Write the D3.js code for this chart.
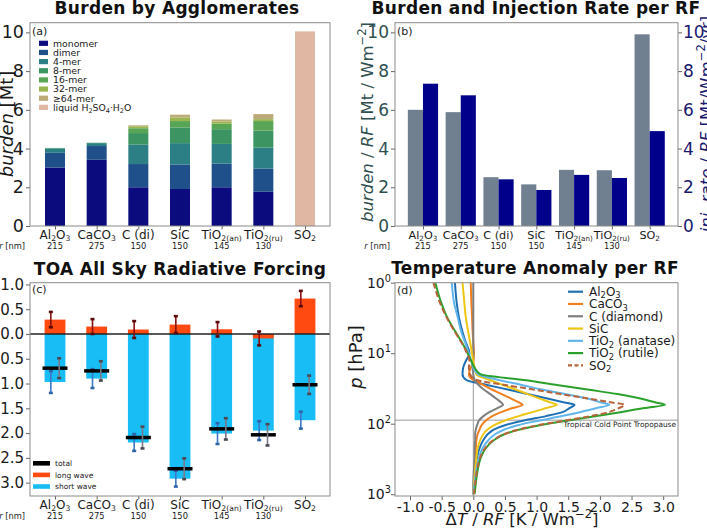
<!DOCTYPE html>
<html><head><meta charset="utf-8">
<script src="https://cdn.jsdelivr.net/npm/d3@7/dist/d3.min.js"></script>
<style>
body{margin:0;background:#fff;}
svg text{font-family:"DejaVu Sans",sans-serif;white-space:pre;}
</style></head>
<body>
<svg id="fig" width="707" height="530"></svg>
<script>
// ================= DATA =================
const categories = ["Al_2O_3","CaCO_3","C (di)","SiC","TiO_{2(an)}","TiO_{2(ru)}","SO_2"];
const radii = ["215","275","150","150","145","130",""];

// (a) burden by agglomerate class [Mt]
const aggLabels = ["monomer","dimer","4-mer","8-mer","16-mer","32-mer","≥64-mer","liquid H_2SO_4·H_2O"];
const monomer = [3.02, 3.42, 2.00, 1.91, 2.00, 1.77, 0];
const dimer   = [0.76, 0.71, 1.20, 1.27, 1.22, 1.20, 0];
const mer4    = [0.22, 0.15, 1.00, 1.10, 1.02, 1.08, 0];
const mer8    = [0.03, 0.02, 0.60, 0.81, 0.76, 0.88, 0];
const mer16   = [0.00, 0.00, 0.25, 0.33, 0.28, 0.49, 0];
const mer32   = [0.00, 0.00, 0.10, 0.18, 0.12, 0.10, 0];
const mer64   = [0.00, 0.00, 0.05, 0.15, 0.10, 0.26, 0];
const liquid  = [0, 0, 0, 0, 0, 0, 10.05];

// (b) burden / RF and injection rate / RF
const burdenPerRF = [6.00, 5.88, 2.52, 2.15, 2.90, 2.88, 9.90];
const injPerRF    = [7.35, 6.75, 2.41, 1.86, 2.64, 2.48, 4.90];

// (c) TOA all-sky radiative forcing [W m-2]
const lwRF    = [0.29, 0.15, 0.09, 0.19, 0.095, -0.09, 0.715];
const lwErr   = [0.155, 0.15, 0.17, 0.17, 0.145, 0.14, 0.155];
const swRF    = [-0.97, -0.90, -2.19, -2.92, -2.01, -1.95, -1.74];
const swErr   = [0.22, 0.19, 0.17, 0.16, 0.21, 0.19, 0.17];
const totalRF = [-0.69, -0.745, -2.09, -2.72, -1.915, -2.035, -1.025];
const totErr  = [0.20, 0.195, 0.22, 0.21, 0.215, 0.215, 0.185];
const rfLegend = ["total","long wave","short wave"];

// (d) temperature anomaly per RF profiles [K / W m-2] vs pressure [hPa]
const pressure = [1,2,3,5,7,10,13,16,20,24,28,33,38,44,50,54,60,68,78,90,105,120,140,170,220,300,450,700,1000];
const dT_Al2O3 = [-0.29,-0.26,-0.23,-0.17,-0.12,-0.06,-0.12,-0.16,-0.17,-0.11,0.20,0.56,0.86,1.17,1.44,1.60,1.52,1.42,1.15,0.80,0.50,0.33,0.23,0.16,0.10,0.06,0.03,0.01,0.00];
const dT_CaCO3 = [-0.04,-0.03,-0.02,-0.01,0.00,0.01,0.00,-0.04,-0.07,0.00,0.15,0.30,0.45,0.60,0.72,0.78,0.62,0.45,0.30,0.20,0.13,0.10,0.07,0.05,0.04,0.03,0.02,0.01,0.00];
const dT_C     = [0.00,0.00,0.00,0.00,0.00,0.00,0.00,-0.01,0.00,0.02,0.08,0.17,0.27,0.36,0.44,0.47,0.38,0.26,0.16,0.09,0.06,0.04,0.03,0.03,0.02,0.02,0.01,0.00,0.00];
const dT_SiC   = [-0.17,-0.14,-0.12,-0.08,-0.05,-0.02,0.00,0.02,0.05,0.26,0.46,0.68,0.86,1.05,1.22,1.32,1.15,0.95,0.72,0.50,0.33,0.23,0.16,0.11,0.07,0.05,0.03,0.01,0.00];
const dT_TiO2an= [-0.34,-0.30,-0.25,-0.19,-0.13,-0.07,-0.03,0.00,0.08,0.40,0.75,1.10,1.45,1.80,2.02,2.15,1.95,1.70,1.40,1.05,0.70,0.50,0.35,0.24,0.15,0.09,0.05,0.02,0.00];
const dT_TiO2ru= [-0.60,-0.50,-0.42,-0.28,-0.18,-0.09,-0.03,0.02,0.12,0.80,1.30,1.83,2.28,2.64,2.88,3.03,2.70,2.35,1.95,1.50,1.05,0.75,0.50,0.33,0.20,0.12,0.07,0.04,0.02];
const dT_SO2   = [-0.63,-0.52,-0.43,-0.29,-0.19,-0.10,-0.06,-0.07,-0.05,0.05,0.48,0.97,1.38,1.82,2.19,2.39,2.30,2.15,1.85,1.45,1.02,0.73,0.49,0.32,0.19,0.11,0.06,0.03,0.01];
const profileLabels = ["Al_2O_3","CaCO_3","C (diamond)","SiC","TiO_2 (anatase)","TiO_2 (rutile)","SO_2"];
const tropopauseP = 89;

// ================= HELPERS =================
const svg = d3.select("#fig");
const INK = "#1a1a1a", FRAME = "#8a8a8a";

function rich(sel, str, fs, subScale, subShift){
  subScale = subScale || 0.7;
  subShift = subShift || 0.22;
  const parts=[]; let buf='', it=false, i=0;
  const flush=()=>{ if(buf){parts.push({t:buf,k:'n',it}); buf='';} };
  while(i<str.length){
    const ch=str[i];
    if(ch==='*'){flush(); it=!it; i++; continue;}
    if(ch==='_'||ch==='^'){
      flush(); let s;
      if(str[i+1]==='{'){const j=str.indexOf('}',i+2); s=str.slice(i+2,j); i=j+1;}
      else {s=str[i+1]; i+=2;}
      parts.push({t:s,k:ch==='_'?'sub':'sup',it}); continue;
    }
    buf+=ch; i++;
  }
  flush();
  let shift=0;
  parts.forEach(p=>{
    const target=p.k==='sub'?subShift*fs:(p.k==='sup'?-0.42*fs:0);
    const ts=sel.append('tspan').text(p.t);
    if(target-shift!==0) ts.attr('dy',target-shift);
    if(p.k!=='n') ts.attr('font-size',fs*subScale);
    if(p.it) ts.attr('font-style','italic');
    shift=target;
  });
  return sel;
}
function txt(g,x,y,fs,anchor,fill){
  return g.append('text').attr('x',x).attr('y',y).attr('font-size',fs)
    .attr('text-anchor',anchor||'start').attr('fill',fill||INK);
}
function styleAxis(g,fs,color){
  g.select('.domain').remove();
  g.selectAll('.tick line').attr('stroke','#666');
  g.selectAll('.tick text').attr('font-size',fs).attr('fill',color||INK);
}
function frame(g,x0,y0,x1,y1){
  g.append('rect').attr('x',x0).attr('y',y0).attr('width',x1-x0).attr('height',y1-y0)
   .attr('fill','none').attr('stroke',FRAME).attr('stroke-width',1);
}
function title(x,y,s){
  svg.append('text').attr('x',x).attr('y',y).attr('text-anchor','middle')
    .attr('font-size',17).attr('font-weight','bold').attr('letter-spacing',0.3).attr('fill','#111').text(s);
}
function catLabels(g,xs,yName,yNum,rRight,fsName){
  categories.forEach((c,i)=>{
    rich(txt(g,xs(i),yName,fsName,'middle'),c,fsName,0.64,0.2);
    txt(g,xs(i),yNum,8.3,'middle').text(radii[i]);
  });
  rich(txt(g,rRight,yNum,8.3,'end'),'*r* [nm]',8.3);
}

// ================= PANEL (a) =================
{
  const g=svg.append('g');
  const L=30,R=330,T=22.7,B=226;
  const x=d3.scaleLinear().domain([-0.6,6.6]).range([L,R]);
  const y=d3.scaleLinear().domain([0,10.5]).range([B,T]);
  const series=[monomer,dimer,mer4,mer8,mer16,mer32,mer64,liquid];
  const colors=["#0b0b7e","#1f5089","#2c7f85","#3b9462","#58a655","#99b650","#bcaa78","#dfb7a3"];
  const rows=categories.map((c,i)=>{const o={i}; series.forEach((s,k)=>o['k'+k]=s[i]); return o;});
  const stacked=d3.stack().keys(series.map((s,k)=>'k'+k))(rows);
  g.selectAll('g.layer').data(stacked).join('g').attr('fill',(d,k)=>colors[k])
    .selectAll('rect').data(d=>d).join('rect')
    .attr('x',d=>x(d.data.i-0.24)).attr('width',x(0.48)-x(0))
    .attr('y',d=>y(d[1])).attr('height',d=>Math.max(0,y(d[0])-y(d[1])));
  g.append('g').attr('transform',`translate(${L},0)`)
    .call(d3.axisLeft(y).tickValues([0,2,4,6,8,10]).tickSize(4).tickPadding(2)).call(styleAxis,17.5);
  g.append('g').attr('transform',`translate(0,${B})`)
    .call(d3.axisBottom(x).tickValues(d3.range(7)).tickSize(3.5).tickFormat('')).call(styleAxis,10);
  frame(g,L,T,R,B);
  catLabels(g,x,238.5,249,25,12);
  txt(g,32,35,11).text('(a)');
  aggLabels.forEach((l,k)=>{
    const yy=43.3+k*9.15;
    g.append('rect').attr('x',39).attr('y',yy-2.6).attr('width',9).attr('height',5.2).attr('fill',colors[k]);
    rich(txt(g,53,yy+3.3,9.3),l,9.3);
  });
  const yl=txt(g,0,0,18,'middle').attr('transform','translate(12.5,124) rotate(-90)');
  rich(yl,'*burden* [Mt]',18);
}

// ================= PANEL (b) =================
{
  const g=svg.append('g');
  const L=395,R=678,T=22.7,B=226;
  const x=d3.scaleLinear().domain([-0.74,6.75]).range([L,R]);
  const y=d3.scaleLinear().domain([0,10.5]).range([B,T]);
  const w=x(0.4)-x(0);
  g.selectAll('rect.bu').data(burdenPerRF).join('rect').attr('class','bu')
    .attr('x',(d,i)=>x(i-0.4)).attr('width',w).attr('y',d=>y(d)).attr('height',d=>B-y(d)).attr('fill','#708090');
  g.selectAll('rect.in').data(injPerRF).join('rect').attr('class','in')
    .attr('x',(d,i)=>x(i)).attr('width',w).attr('y',d=>y(d)).attr('height',d=>B-y(d)).attr('fill','#00008b');
  g.append('g').attr('transform',`translate(${L},0)`)
    .call(d3.axisLeft(y).tickValues([0,2,4,6,8,10]).tickSize(4).tickPadding(2)).call(styleAxis,17,'#2f4f4f');
  g.append('g').attr('transform',`translate(${R},0)`)
    .call(d3.axisRight(y).tickValues([0,2,4,6,8,10]).tickSize(4).tickPadding(1)).call(styleAxis,17,'#191970');
  g.append('g').attr('transform',`translate(0,${B})`)
    .call(d3.axisBottom(x).tickValues(d3.range(7)).tickSize(3.5).tickFormat('')).call(styleAxis,10);
  frame(g,L,T,R,B);
  catLabels(g,x,238.5,249,390,11.2);
  txt(g,397,35,11).text('(b)');
  const yl=txt(g,0,0,16.5,'middle','#2f4f4f').attr('transform','translate(373,122) rotate(-90)');
  rich(yl,'*burden* / *RF* [Mt / Wm^{−2}]',16.5);
  const yr=txt(g,0,0,16.5,'middle','#191970').attr('transform','translate(712,124) rotate(-90)');
  rich(yr,'*inj. rate* / *RF* [Mt/Wm^{−2}/yr]',16.5);
}

// ================= PANEL (c) =================
{
  const g=svg.append('g');
  const L=30,R=330,T=282.7,B=496;
  const x=d3.scaleLinear().domain([-0.6,6.6]).range([L,R]);
  const y=d3.scaleLinear().domain([-3.27,1.035]).range([B,T]);
  const bw=0.5, bwp=x(bw)-x(0);
  g.selectAll('rect.sw').data(swRF).join('rect').attr('class','sw')
    .attr('x',(d,i)=>x(i-bw/2)).attr('width',bwp)
    .attr('y',d=>Math.min(y(0),y(d))).attr('height',d=>Math.abs(y(d)-y(0))).attr('fill','#19bdf5');
  g.selectAll('rect.lw').data(lwRF).join('rect').attr('class','lw')
    .attr('x',(d,i)=>x(i-bw/2)).attr('width',bwp)
    .attr('y',d=>Math.min(y(0),y(d))).attr('height',d=>Math.abs(y(d)-y(0))).attr('fill','#ff4a12');
  g.append('line').attr('x1',L).attr('x2',R).attr('y1',y(0)).attr('y2',y(0)).attr('stroke','#222').attr('stroke-width',1.3);
  function errBars(vals,errs,off,color,cap){
    vals.forEach((v,i)=>{
      const xx=x(i+off);
      g.append('line').attr('x1',xx).attr('x2',xx).attr('y1',y(v-errs[i])).attr('y2',y(v+errs[i]))
        .attr('stroke',color).attr('stroke-width',1.6);
      [v-errs[i],v+errs[i]].forEach(e=>g.append('line').attr('x1',xx-2).attr('x2',xx+2)
        .attr('y1',y(e)).attr('y2',y(e)).attr('stroke',cap).attr('stroke-width',2.6));
    });
  }
  errBars(swRF,swErr,-0.1,'#3a78c8','#2f64a8');
  errBars(lwRF,lwErr,-0.1,'#8b1010','#5a0a0a');
  g.selectAll('line.tot').data(totalRF).join('line').attr('class','tot')
    .attr('x1',(d,i)=>x(i-0.3)).attr('x2',(d,i)=>x(i+0.3)).attr('y1',d=>y(d)).attr('y2',d=>y(d))
    .attr('stroke','#000').attr('stroke-width',3.5);
  errBars(totalRF,totErr,0.1,'#7a7a8a','#4a4a55');
  g.append('g').attr('transform',`translate(${L},0)`)
    .call(d3.axisLeft(y).tickValues([1,0.5,0,-0.5,-1,-1.5,-2,-2.5,-3]).tickFormat(d=>d.toFixed(1)).tickSize(4).tickPadding(2))
    .call(styleAxis,15);
  g.append('g').attr('transform',`translate(0,${B})`)
    .call(d3.axisBottom(x).tickValues(d3.range(7)).tickSize(3.5).tickFormat('')).call(styleAxis,10);
  frame(g,L,T,R,B);
  catLabels(g,x,509,519,25,12);
  txt(g,32,293,11).text('(c)');
  const lc=['#000','#ff4a12','#19bdf5'];
  rfLegend.forEach((l,k)=>{
    const yy=463.3+k*11.6;
    g.append('rect').attr('x',33).attr('y',yy-2.3).attr('width',17).attr('height',4.6).attr('fill',lc[k]);
    txt(g,55,yy+2.7,7.5).text(l);
  });
}

// ================= PANEL (d) =================
{
  const g=svg.append('g');
  const L=395,R=678,T=282.7,B=496;
  const x=d3.scaleLinear().domain([-1.237,3.234]).range([L,R]);
  const y=d3.scaleLog().domain([1,1060]).range([T,B]);
  svg.append('defs').append('clipPath').attr('id','clipD').append('rect')
    .attr('x',L).attr('y',T).attr('width',R-L).attr('height',B-T);
  g.append('line').attr('x1',x(0)).attr('x2',x(0)).attr('y1',T).attr('y2',B).attr('stroke','#9a9a9a').attr('stroke-width',1);
  g.append('line').attr('x1',L).attr('x2',R).attr('y1',y(tropopauseP)).attr('y2',y(tropopauseP)).attr('stroke','#9a9a9a').attr('stroke-width',1);
  txt(g,676,y(tropopauseP)+7,7.4,'end').text('Tropical Cold Point Tropopause');
  const profs=[dT_Al2O3,dT_CaCO3,dT_C,dT_SiC,dT_TiO2an,dT_TiO2ru,dT_SO2];
  const cols=['#1f6fb4','#f07f1e','#7f7f7f','#ecc613','#62b5ea','#2ca02c','#b8643a'];
  const dash=[null,null,null,null,null,null,'6,3'];
  const line=d3.line().x(d=>x(d[0])).y(d=>y(d[1])).curve(d3.curveMonotoneY);
  const lg=g.append('g').attr('clip-path','url(#clipD)');
  profs.forEach((p,k)=>{
    lg.append('path').datum(p.map((v,i)=>[v,pressure[i]])).attr('d',line)
      .attr('fill','none').attr('stroke',cols[k]).attr('stroke-width',2).attr('stroke-dasharray',dash[k]);
  });
  g.append('g').attr('transform',`translate(${L},0)`)
    .call(d3.axisLeft(y).tickValues([1,10,100,1000]).tickFormat('').tickSize(4)).call(styleAxis,14);
  [0,1,2,3].forEach(e=>rich(txt(g,391,y(Math.pow(10,e))+5,14,'end'),'10^'+e,14));
  g.append('g').attr('transform',`translate(0,${B})`)
    .call(d3.axisBottom(x).tickValues([-1,-0.5,0,0.5,1,1.5,2,2.5,3]).tickFormat(d=>d.toFixed(1)).tickSize(4).tickPadding(2))
    .call(styleAxis,14);
  frame(g,L,T,R,B);
  txt(g,397,294,11).text('(d)');
  profileLabels.forEach((l,k)=>{
    const yy=291.7+k*12.28;
    g.append('line').attr('x1',568).attr('x2',583).attr('y1',yy).attr('y2',yy)
      .attr('stroke',cols[k]).attr('stroke-width',2.2).attr('stroke-dasharray',dash[k]?'4,2.5':null);
    rich(txt(g,589,yy+4.3,12),l,12,0.7,0.2);
  });
  const yl=txt(g,0,0,18,'middle').attr('transform','translate(362,357) rotate(-90)');
  rich(yl,'*p* [hPa]',18);
  rich(txt(g,522,525,16.5,'middle'),'Δ*T* / *RF* [K / Wm^{−2}]',16.5);
}

// ================= TITLES =================
title(177,14,'Burden by Agglomerates');
title(536,14,'Burden and Injection Rate per RF');
title(180,274.5,'TOA All Sky Radiative Forcing');
title(535,273.5,'Temperature Anomaly per RF');
</script>
</body></html>
